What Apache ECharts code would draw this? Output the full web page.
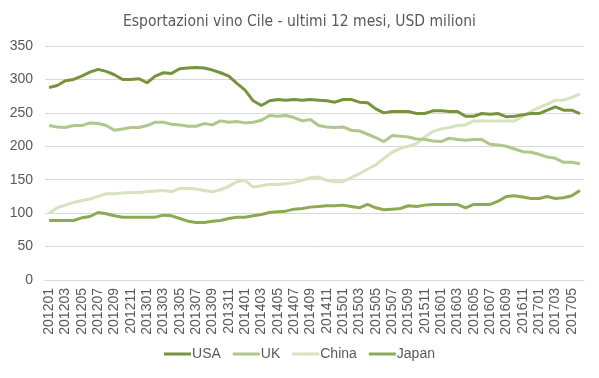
<!DOCTYPE html>
<html><head><meta charset="utf-8">
<script src="https://cdn.jsdelivr.net/npm/echarts@6/dist/echarts.min.js"></script>
<style>html,body{margin:0;padding:0;background:#fff}#c{width:599px;height:378px}</style>
</head><body><div id="c"></div>
<script>
const months = [];
for (let y = 2012; y <= 2017; y++) for (let m = 1; m <= 12; m++) { if (y === 2017 && m > 6) break; months.push(String(y) + (m < 10 ? '0' : '') + m); }
const usa = [288,291,298,300,305,311,315,312,307,300,300,301,295,305,310,309,316,317,318,317,314,310,305,294,284,268,261,268,270,269,270,269,270,269,268,266,270,270,266,265,256,250,252,252,252,249,249,253,253,252,252,245,245,249,248,249,244,245,247,249,249,254,259,254,254,249];
const uk = [231,229,228,231,231,235,234,231,224,226,228,228,231,236,236,233,232,230,230,234,232,238,236,237,235,236,239,246,245,246,243,238,240,231,229,228,229,224,223,218,213,207,216,215,214,211,210,208,207,212,210,209,210,210,203,202,200,196,192,191,188,184,182,176,176,174];
const china = [100,108,112,116,119,121,125,129,129,130,131,131,132,133,134,132,137,137,136,134,132,135,140,147,149,139,141,143,143,144,146,149,153,154,149,147,147,153,159,166,172,182,191,197,200,204,214,222,226,228,231,232,238,238,238,238,238,238,245,252,258,263,269,269,273,278];
const japan = [89,89,89,89,93,95,101,99,96,94,94,94,94,94,97,96,92,88,86,86,88,89,92,94,94,96,98,101,102,103,106,107,109,110,111,111,112,110,108,113,108,105,106,107,111,110,112,113,113,113,113,108,113,113,113,118,125,126,124,122,122,125,122,123,126,134];
const seriesNames = ['USA','UK','China','Japan'];
const colors = ['#77933C','#AFC78A','#D5E3BE','#8DAA52'];
const seriesData = [usa, uk, china, japan];

const chart = echarts.init(document.getElementById('c'), null, {renderer:'canvas'});
chart.setOption({
  animation: false,
  backgroundColor: '#fff',
  title: {
    text: 'Esportazioni vino Cile - ultimi 12 mesi, USD milioni',
    left: 'center', top: 9,
    textStyle: {fontFamily: '"DejaVu Sans Condensed",sans-serif', fontSize: 15.5, fontWeight: 'normal', color: '#595959'}
  },
  legend: {
    bottom: 12, left: 'center',
    itemWidth: 27, itemHeight: 3, itemGap: 12, icon: 'rect',
    textStyle: {fontFamily: '"Liberation Sans",sans-serif', fontSize: 14, color: '#595959', padding: [0,0,0,-4]},
    data: seriesNames
  },
  grid: {left: 45, right: 15, top: 46, bottom: 98, containLabel: false},
  xAxis: {
    type: 'category', data: months, boundaryGap: true,
    axisLine: {show: true, lineStyle: {color: '#d9d9d9'}},
    axisTick: {show: false},
    axisLabel: {interval: 1, rotate: 90, margin: 8, fontFamily: '"Liberation Sans",Arial,sans-serif', fontSize: 14, color: '#595959'}
  },
  yAxis: {
    type: 'value', min: 0, max: 350, interval: 50,
    axisLine: {show: false}, axisTick: {show: false},
    splitLine: {lineStyle: {color: '#d9d9d9', width: 1}},
    axisLabel: {margin: 12, fontFamily: '"Liberation Sans",Arial,sans-serif', fontSize: 14, color: '#595959'}
  },
  series: seriesNames.map((n, k) => ({
    name: n, type: 'line', data: seriesData[k], showSymbol: false, symbol: 'none',
    lineStyle: {color: colors[k], width: 3}, itemStyle: {color: colors[k]}, z: 10 - k
  }))
});
</script></body></html>
